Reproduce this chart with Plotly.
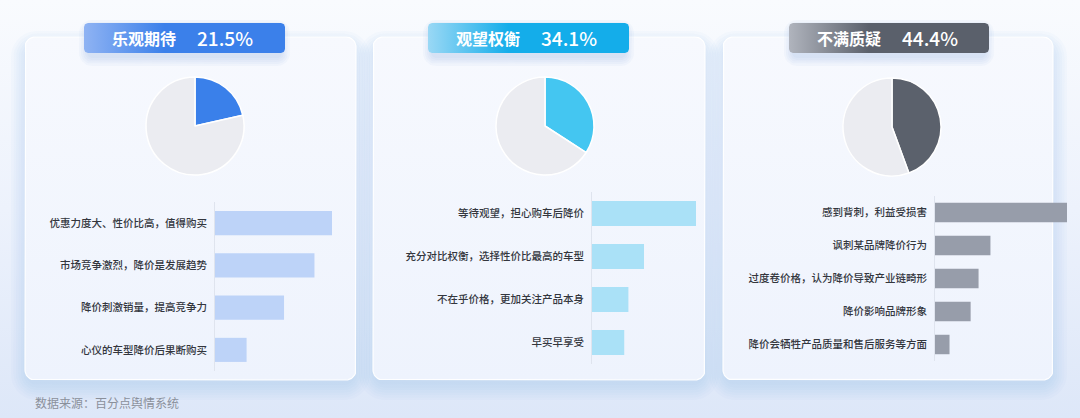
import plotly.graph_objects as go
import numpy as np

W, H = 1080, 418
FONT = "Noto Sans CJK SC"

# ---------------- data ----------------
groups = ["乐观期待", "观望权衡", "不满质疑"]
shares = [21.5, 34.1, 44.4]

cats_optimistic = ["优惠力度大、性价比高，值得购买", "市场竞争激烈，降价是发展趋势",
                   "降价刺激销量，提高竞争力", "心仪的车型降价后果断购买"]
vals_optimistic = [100, 85, 59, 27]          # relative length (max = 100)

cats_wait = ["等待观望，担心购车后降价", "充分对比权衡，选择性价比最高的车型",
             "不在乎价格，更加关注产品本身", "早买早享受"]
vals_wait = [100, 50, 35, 31]

cats_unhappy = ["感到背刺，利益受损害", "讽刺某品牌降价行为", "过度卷价格，认为降价导致产业链畸形",
                "降价影响品牌形象", "降价会牺牲产品质量和售后服务等方面"]
vals_unhappy = [100, 42, 33, 27, 11]

source_text = "数据来源：百分点舆情系统"

# ---------------- styling / layout ----------------
panels = [
    dict(card=(25, 37, 356, 380), badge=(84, 23, 285, 53),
         grad=("#8fb3f3", "#3b80ea"), pie_col="#3a80ea", pie_c=(195, 126, 49),
         bar_col="#bdd3f8", bar_x=(215, 332), bar_y=(202, 371), bw=0.57,
         cats=cats_optimistic, vals=vals_optimistic),
    dict(card=(373, 37, 705, 380), badge=(428, 23, 629, 53),
         grad=("#9ad8f5", "#14adea"), pie_col="#44c6f1", pie_c=(545, 126, 49),
         bar_col="#aae1f7", bar_x=(592, 696), bar_y=(192, 364), bw=0.58,
         cats=cats_wait, vals=vals_wait),
    dict(card=(723, 37, 1053, 380), badge=(789, 23, 989, 53),
         grad=("#b0b4bd", "#5a606b"), pie_col="#5b616c", pie_c=(892, 127, 49),
         bar_col="#979daa", bar_x=(935, 1067), bar_y=(196, 361), bw=0.59,
         cats=cats_unhappy, vals=vals_unhappy),
]


def rrect(x0, y0, x1, y1, r, n=10):
    xs, ys = [], []
    corners = [(x1 - r, y0 + r, -np.pi / 2, 0), (x1 - r, y1 - r, 0, np.pi / 2),
               (x0 + r, y1 - r, np.pi / 2, np.pi), (x0 + r, y0 + r, np.pi, 1.5 * np.pi)]
    for cx, cy, a0, a1 in corners:
        t = np.linspace(a0, a1, n)
        xs += list(cx + r * np.cos(t))
        ys += list(cy + r * np.sin(t))
    xs.append(xs[0]); ys.append(ys[0])
    return xs, ys


fig = go.Figure()

# background gradient (canvas subplot x/y, drawn first); colorscale runs bottom -> top
bx, by = [0, W, W, 0, 0], [0, 0, H, H, 0]
fig.add_trace(go.Scatter(x=bx, y=by, mode="lines", line=dict(width=0), fill="toself",
                         fillgradient=dict(type="vertical",
                                           colorscale=[[0, "#dde7f8"], [0.5, "#edf2fc"], [1, "#f9fbfe"]]),
                         hoverinfo="skip", showlegend=False, xaxis="x", yaxis="y"))

for p in panels:
    x0, y0, x1, y1 = p["card"]
    # soft shadow, mostly below the card
    for k in range(7):
        e = 1 + k * 2.5
        sx, sy = rrect(x0 - e + 2, y0 + 10 - e, x1 + e - 2, y1 + e + 4, 10 + e)
        fig.add_trace(go.Scatter(x=sx, y=sy, mode="lines", line=dict(width=0), fill="toself",
                                 fillcolor="rgba(140,170,230,0.04)", hoverinfo="skip",
                                 showlegend=False, xaxis="x", yaxis="y"))
    cx_, cy_ = rrect(x0, y0, x1, y1, 10)
    fig.add_trace(go.Scatter(x=cx_, y=cy_, mode="lines", line=dict(width=1.2, color="rgba(255,255,255,0.95)"),
                             fill="toself",
                             fillgradient=dict(type="vertical",
                                               colorscale=[[0, "#eef3fd"], [1, "#f7f9fe"]]),
                             hoverinfo="skip", showlegend=False, xaxis="x", yaxis="y"))

for p in panels:
    x0, y0, x1, y1 = p["badge"]
    for k in range(5):
        e = 1 + k * 2
        sx, sy = rrect(x0 - e + 4, y0 - e + 6, x1 + e - 4, y1 + e + 4, 4 + e)
        fig.add_trace(go.Scatter(x=sx, y=sy, mode="lines", line=dict(width=0), fill="toself",
                                 fillcolor="rgba(120,150,210,0.05)", hoverinfo="skip",
                                 showlegend=False, xaxis="x", yaxis="y"))
    bxs, bys = rrect(x0, y0, x1, y1, 4)
    fig.add_trace(go.Scatter(x=bxs, y=bys, mode="lines", line=dict(width=0), fill="toself",
                             fillgradient=dict(type="horizontal",
                                               colorscale=[[0, p["grad"][0]], [0.4, p["grad"][1]],
                                                           [1, p["grad"][1]]]),
                             hoverinfo="skip", showlegend=False, xaxis="x", yaxis="y"))

annotations = []
for i, p in enumerate(panels):
    x0, y0, x1, y1 = p["badge"]
    yc = (y0 + y1) / 2
    annotations.append(dict(x=x0 + 94, y=yc, xref="x", yref="y", text=groups[i], showarrow=False,
                            xanchor="right", yanchor="middle",
                            font=dict(family=FONT, size=16, color="white", weight="bold")))
    annotations.append(dict(x=x0 + 111, y=yc - 1, xref="x", yref="y", text=f"{shares[i]}%",
                            showarrow=False, xanchor="left", yanchor="middle",
                            font=dict(family=FONT, size=19, color="white", weight=500)))

annotations.append(dict(x=33, y=402, xref="x", yref="y", text=source_text, showarrow=False,
                        xanchor="left", yanchor="middle",
                        font=dict(family=FONT, size=12, color="#8a909b")))

# bars
for i, p in enumerate(panels):
    n = i + 2
    fig.add_trace(go.Bar(y=p["cats"], x=p["vals"], orientation="h", width=p["bw"],
                         marker=dict(color=p["bar_col"], line=dict(width=0)),
                         hoverinfo="skip", showlegend=False,
                         xaxis=f"x{n}", yaxis=f"y{n}"))

# pies
for i, p in enumerate(panels):
    cx, cy, r = p["pie_c"]
    fig.add_trace(go.Pie(values=[shares[i], 100 - shares[i]],
                         marker=dict(colors=[p["pie_col"], "#ebecf1"],
                                     line=dict(color="white", width=1.5)),
                         sort=False, direction="clockwise", rotation=0, textinfo="none",
                         hoverinfo="skip", showlegend=False,
                         domain=dict(x=[(cx - r) / W, (cx + r) / W],
                                     y=[1 - (cy + r) / H, 1 - (cy - r) / H])))

layout = dict(
    width=W, height=H, margin=dict(l=0, r=0, t=0, b=0),
    paper_bgcolor="#eef3fc", plot_bgcolor="rgba(0,0,0,0)",
    xaxis=dict(domain=[0, 1], range=[0, W], visible=False, fixedrange=True),
    yaxis=dict(domain=[0, 1], range=[H, 0], visible=False, fixedrange=True),
    annotations=annotations, showlegend=False,
)
for i, p in enumerate(panels):
    n = i + 2
    layout[f"xaxis{n}"] = dict(domain=[p["bar_x"][0] / W, p["bar_x"][1] / W], range=[0, 100],
                               visible=False, anchor=f"y{n}", fixedrange=True)
    layout[f"yaxis{n}"] = dict(domain=[1 - p["bar_y"][1] / H, 1 - p["bar_y"][0] / H],
                               anchor=f"x{n}", type="category", autorange="reversed",
                               showline=True, linecolor="#dfe4ee", linewidth=1,
                               showgrid=False, zeroline=False, ticks="outside", ticklen=5,
                               tickcolor="rgba(0,0,0,0)",
                               tickfont=dict(family=FONT, size=10.5, color="#33363d", weight=500),
                               fixedrange=True)

fig.update_layout(**layout)
fig.write_html("out.html", config={"displayModeBar": False})

# remove the default page margin so the figure sits at the window origin
with open("out.html", "r", encoding="utf-8") as f:
    html = f.read()
html = html.replace("<head>", "<head><style>html,body{margin:0;padding:0;overflow:hidden;}</style>", 1)
with open("out.html", "w", encoding="utf-8") as f:
    f.write(html)
